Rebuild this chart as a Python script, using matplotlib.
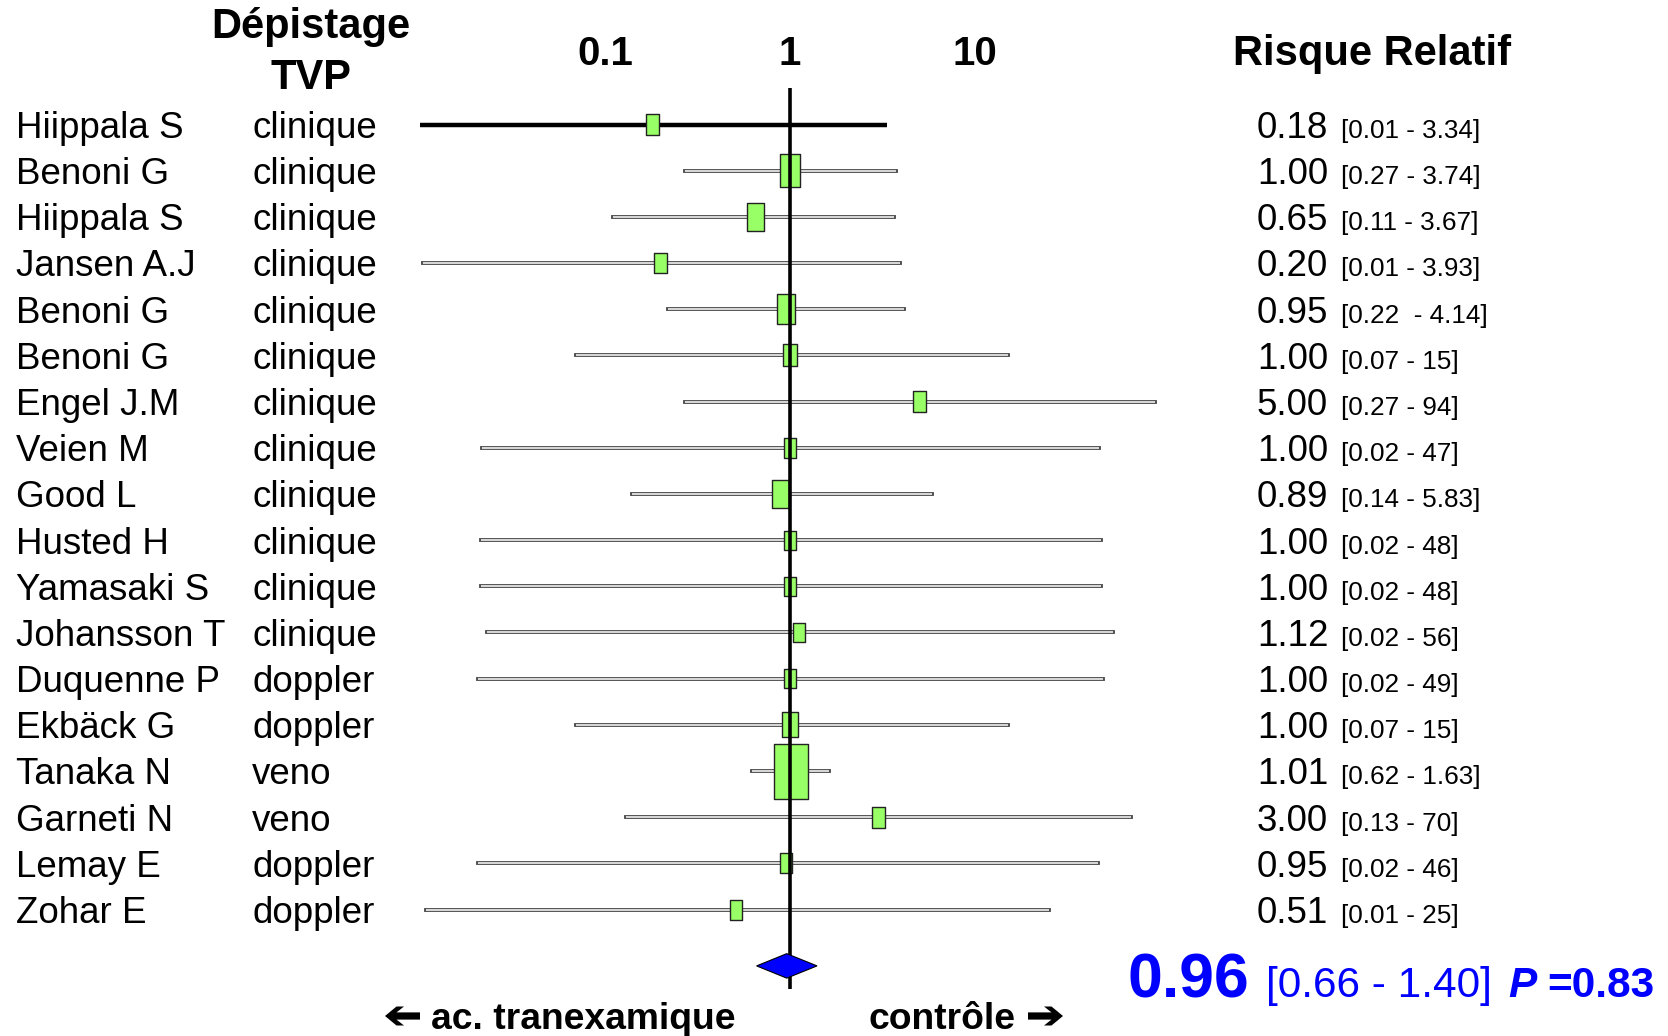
import matplotlib
matplotlib.use('Agg')
import matplotlib.pyplot as plt
import numpy as np
from matplotlib.path import Path
from matplotlib.patches import Polygon
import matplotlib.transforms as mtransforms

plt.rcParams['font.family'] = ['Liberation Sans', 'DejaVu Sans']

# ----- Donnees -----
auteurs = ["Hiippala S", "Benoni G", "Hiippala S", "Jansen A.J", "Benoni G",
           "Benoni G", "Engel J.M", "Veien M", "Good L", "Husted H",
           "Yamasaki S", "Johansson T", "Duquenne P", "Ekbäck G", "Tanaka N",
           "Garneti N", "Lemay E", "Zohar E"]
depistage = ["clinique"] * 12 + ["doppler", "doppler", "veno", "veno",
                                 "doppler", "doppler"]
rr = [0.18, 1.00, 0.65, 0.20, 0.95, 1.00, 5.00, 1.00, 0.89, 1.00,
      1.00, 1.12, 1.00, 1.00, 1.01, 3.00, 0.95, 0.51]
ic_bas = [0.01, 0.27, 0.11, 0.0104, 0.22, 0.07, 0.27, 0.0215, 0.14, 0.0213,
          0.0213, 0.023, 0.0207, 0.07, 0.62, 0.13, 0.0205, 0.0108]
ic_haut = [3.34, 3.74, 3.67, 3.93, 4.14, 15, 94, 47, 5.83, 48,
           48, 56, 49, 15, 1.63, 70, 46, 25]
ic_txt = ["[0.01 - 3.34]", "[0.27 - 3.74]", "[0.11 - 3.67]", "[0.01 - 3.93]",
          "[0.22  - 4.14]", "[0.07 - 15]", "[0.27 - 94]", "[0.02 - 47]",
          "[0.14 - 5.83]", "[0.02 - 48]", "[0.02 - 48]", "[0.02 - 56]",
          "[0.02 - 49]", "[0.07 - 15]", "[0.62 - 1.63]", "[0.13 - 70]",
          "[0.02 - 46]", "[0.01 - 25]"]
# poids relatif de chaque etude (taille du carre)
poids = [2.2, 3.4, 2.9, 2.1, 3.1, 2.3, 2.2, 2.1, 2.9, 2.0,
         2.0, 2.0, 2.0, 2.6, 5.6, 2.2, 2.1, 2.1]
rr_global = 0.96
ic_global = [0.66, 1.40]
p_global = 0.83
ticks = [0.1, 1, 10]

# ----- Figure -----
W, H = 1668, 1036
fig = plt.figure(figsize=(W / 100, H / 100), dpi=100)
ax = fig.add_axes([0, 0, 1, 1])
ax.set_xscale('log')
px_dec = 185.0   # pixels per decade
x1_px = 790.0    # pixel position of RR = 1
ax.set_xlim(10 ** (-x1_px / px_dec), 10 ** ((W - x1_px) / px_dec))
y0_px = 124.5    # first row
dy = 46.18       # row spacing
ax.set_ylim((H - y0_px) / dy, -y0_px / dy)
ax.axis('off')

tx = mtransforms.blended_transform_factory(fig.transFigure, ax.transData)
def fx(px):
    return px / W

n = len(rr)
y = np.arange(n)

# ----- Intervalles de confiance -----
for i in range(n):
    if i == 0:
        ax.plot([ic_bas[i], ic_haut[i]], [y[i], y[i]], color='black', lw=3.2,
                solid_capstyle='butt', zorder=1)
    else:
        ax.plot([ic_bas[i], ic_haut[i]], [y[i], y[i]], color='#505050', lw=2.8,
                solid_capstyle='projecting', zorder=1)
        ax.plot([ic_bas[i], ic_haut[i]], [y[i], y[i]], color='white', lw=1.1,
                solid_capstyle='butt', zorder=1.1)

# ----- Carres -----
rect = Path([(-0.31, -0.5), (0.31, -0.5), (0.31, 0.5), (-0.31, 0.5), (-0.31, -0.5)],
            [Path.MOVETO, Path.LINETO, Path.LINETO, Path.LINETO, Path.CLOSEPOLY])
tailles = [((p * 10 - 1) * 0.72) ** 2 for p in poids]
ax.scatter(rr, y, s=tailles, marker=rect, facecolor='#99ff66',
           edgecolor='#222222', linewidths=1.0, zorder=2)

# ----- Ligne verticale RR=1 -----
ax.plot([1, 1], [-0.79, 18.72], color='black', lw=2.6, solid_capstyle='butt', zorder=3)

# ----- Losange global -----
yd = 18.22
hd = 0.265
diam = Polygon([(ic_global[0], yd), (rr_global, yd - hd), (ic_global[1], yd),
                (rr_global, yd + hd)], closed=True, facecolor='#0000ff',
               edgecolor='black', lw=0.8, zorder=4)
ax.add_patch(diam)

# ----- Textes -----
fs = 26.5
for i in range(n):
    yb = y[i] + 0.29
    ax.text(fx(16), yb, auteurs[i], transform=tx, fontsize=fs, va='baseline', ha='left')
    ax.text(fx(252), yb, depistage[i], transform=tx, fontsize=fs, va='baseline', ha='left')
    ax.text(fx(1257), yb, "%.2f" % rr[i], transform=tx, fontsize=fs, va='baseline', ha='left')
    ax.text(fx(1341), yb, ic_txt[i], transform=tx, fontsize=18.8, va='baseline', ha='left')

ax.text(fx(311), -2.11, "Dépistage", transform=tx, fontsize=30, fontweight='bold',
        ha='center', va='center')
ax.text(fx(311), -1.0, "TVP", transform=tx, fontsize=30, fontweight='bold',
        ha='center', va='center')
ax.text(fx(1372), -1.52, "Risque Relatif", transform=tx, fontsize=30, fontweight='bold',
        ha='center', va='center')
for t in ticks:
    ax.text(t, -1.53, "%g" % t, fontsize=29, fontweight='bold', ha='center', va='center')

# resultat global
yg = 18.9
ax.text(fx(1127), yg, "%.2f" % rr_global, transform=tx, fontsize=45, fontweight='bold',
        color='#0000ff', va='baseline', ha='left')
ax.text(fx(1266), yg, "[%.2f - %.2f]" % (ic_global[0], ic_global[1]), transform=tx,
        fontsize=30.5, color='#0000ff', va='baseline', ha='left')
ax.text(fx(1508), yg, "P", transform=tx, fontsize=30.5, fontweight='bold',
        fontstyle='italic', color='#0000ff', va='baseline', ha='left')
ax.text(fx(1547), yg, "=%.2f" % p_global, transform=tx, fontsize=30.5,
        fontweight='bold', color='#0000ff', va='baseline', ha='left')

# ----- Fleches en bas -----
yf = 19.37
ax.text(fx(431), yf, "ac. tranexamique", transform=tx, fontsize=26.8,
        fontweight='bold', ha='left', va='center')
ax.text(fx(869), yf, "contrôle", transform=tx, fontsize=26.8,
        fontweight='bold', ha='left', va='center')

# fleche epaisse (coordonnees en pixels, centre en 0)
fleche = np.array([(17.5, 0), (6, 9.5), (-1.5, 9.5), (6.0, 3.6), (-17.5, 3.6),
                   (-17.5, -3.6), (6.0, -3.6), (-1.5, -9.5), (6, -9.5)])
px_tr = mtransforms.Affine2D().scale(1 / 100.0) + fig.dpi_scale_trans
for cx, sens in [(402.5, -1), (1045.5, 1)]:
    pts = np.column_stack([cx + sens * fleche[:, 0], (H - 1016) + fleche[:, 1]])
    fig.add_artist(Polygon(pts, closed=True, facecolor='black', edgecolor='none',
                           transform=px_tr))

fig.savefig('out.png', dpi=100)
